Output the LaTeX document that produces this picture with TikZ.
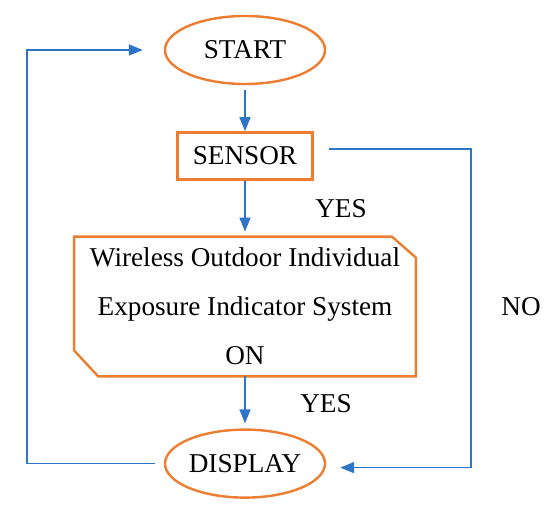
\documentclass[tikz,border=0pt]{standalone}
\usepackage{fontspec}
\setmainfont{Liberation Serif}
\usetikzlibrary{arrows.meta,positioning,shapes.geometric}
\definecolor{boxorange}{RGB}{237,125,49}
\definecolor{lineblue}{RGB}{46,117,200}

\begin{document}
\begin{tikzpicture}[
  x=0.5pt,y=-0.5pt,
  node distance=23pt,
  font=\fontsize{13.6}{24.5}\selectfont,
  outline/.style={draw=boxorange,line width=1.2pt},
  term/.style={outline,ellipse,
    minimum width=80pt,minimum height=34pt,inner sep=0pt},
  sensebox/.style={outline,minimum width=67.5pt,minimum height=23.5pt},
  sysbox/.style={inner sep=0pt,minimum width=170.5pt,minimum height=69.5pt,
    align=center},
  flow/.style={lineblue,line width=0.75pt,-{Triangle[length=7pt,width=5.5pt]}}]
\useasboundingbox (0,0) rectangle (550,512);
\node[term] (start) at (245,50) {START};
\node[sensebox,below=of start] (sensor) {SENSOR};
\node[sysbox,below=28pt of sensor] (system) {Wireless Outdoor Individual\\
Exposure Indicator System\\ON};
\draw[outline] ([xshift=-12pt]system.north east) -- ([yshift=-10.5pt]system.north east)
  -- (system.south east) -- ([xshift=12pt]system.south west)
  -- ([yshift=13pt]system.south west) -- (system.north west) -- cycle;
\node[term,below=26pt of system] (display) {DISPLAY};
\node (yesa) at (341,209) {YES};
\node (no) at (521,307) {NO};
\node (yesb) at (326,404) {YES};
\coordinate (back) at (27,462);
\coordinate (skip) at (471,149);
\draw[flow,shorten <=2.5pt] (start) -- (sensor);
\draw[flow,shorten >=2.5pt] (sensor) -- (system);
\draw[flow,shorten >=2.5pt] (system) -- (display);
\draw[flow,shorten <=4.5pt,shorten >=10.5pt] (display.west) -- (display.west -| back) |- (start.west);
\draw[flow,shorten <=7.5pt,shorten >=7pt] (sensor.east |- skip) -- (skip) |- ([yshift=-2pt]display.east);
\end{tikzpicture}
\end{document}
